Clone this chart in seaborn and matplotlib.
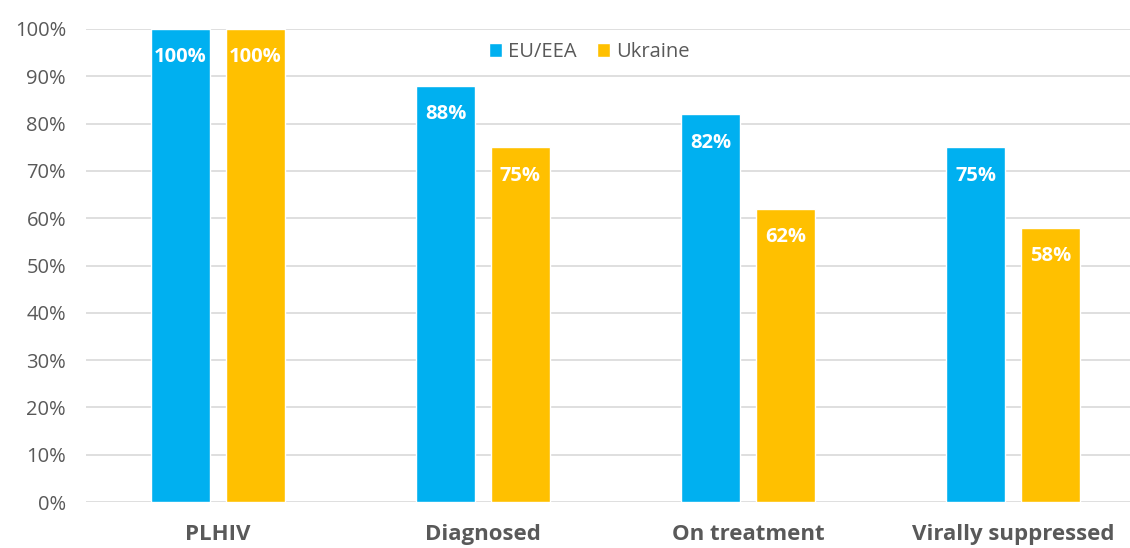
import pandas as pd
import matplotlib
matplotlib.use("Agg")
import matplotlib.pyplot as plt
import seaborn as sns
from matplotlib.ticker import PercentFormatter

# data
stages = ["PLHIV", "Diagnosed", "On treatment", "Virally suppressed"]
eu_eea = [100, 88, 82, 75]
ukraine = [100, 75, 62, 58]
series = ["EU/EEA", "Ukraine"]

df = pd.DataFrame({
    "stage": stages * 2,
    "value": eu_eea + ukraine,
    "region": [series[0]] * len(stages) + [series[1]] * len(stages),
})

sns.set_style("white")
plt.rcParams["font.family"] = ["Open Sans", "DejaVu Sans"]

fig = plt.figure(figsize=(11.3, 5.48), dpi=100)
ax = fig.add_axes([85.5 / 1130, 46 / 548, 1060 / 1130, 473 / 548])

palette = {"EU/EEA": "#00B0F0", "Ukraine": "#FFC000"}
sns.barplot(data=df, x="stage", y="value", hue="region", palette=palette,
            width=0.566, gap=0.21, saturation=1, ax=ax, zorder=3)

ax.set_ylim(0, 100)
ax.set_yticks(range(0, 101, 10))
ax.yaxis.set_major_formatter(PercentFormatter(decimals=0))
ax.grid(axis="y", color="#D9D9D9", linewidth=1.2, zorder=0)
ax.set_axisbelow(True)
for s in ax.spines.values():
    s.set_visible(False)
ax.set_xlabel("")
ax.set_ylabel("")
ax.tick_params(axis="y", length=0, labelsize=14.5, labelcolor="#595959", pad=14)
ax.tick_params(axis="x", length=0, pad=16)
for lbl in ax.get_xticklabels():
    lbl.set_fontsize(16)
    lbl.set_fontweight("bold")
    lbl.set_color("#595959")

# value labels inside bar tops
for cont in ax.containers:
    for bar in cont:
        h = bar.get_height()
        ax.annotate(f"{h:.0f}%", (bar.get_x() + bar.get_width() / 2, h),
                    xytext=(0, -20.5), textcoords="offset points",
                    ha="center", va="center", color="white",
                    fontsize=14.5, fontweight="bold", zorder=4)

leg = ax.legend(loc="center", bbox_to_anchor=((589 - 85.5) / 1060, (548 - 52 - 46) / 473),
                ncol=2, frameon=False, fontsize=14.5, handlelength=0.65, handleheight=0.65,
                handletextpad=0.3, columnspacing=1.0, labelcolor="#595959")

fig.savefig("out.png", dpi=100)
